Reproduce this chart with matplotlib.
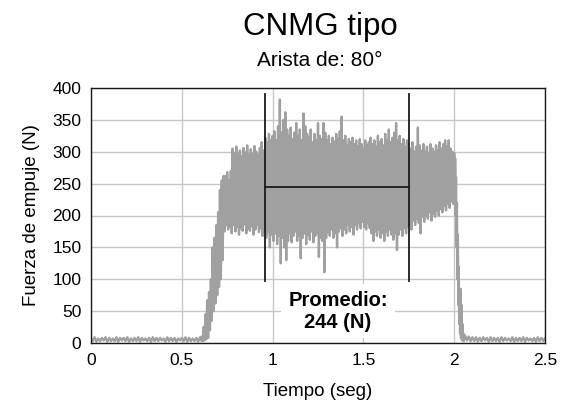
import numpy as np
import matplotlib
matplotlib.use("Agg")
import matplotlib.pyplot as plt

plt.rcParams['font.family'] = ['Liberation Sans', 'DejaVu Sans']

# ---- data ----
# baseline before the cut (t = 0.00 .. 0.60, step 0.02)
base_hi = [8, 9, 7, 8, 9, 8, 7, 9, 8, 8, 9, 7, 8, 9, 8, 7, 8, 9, 8, 8, 7, 9, 8, 8, 7, 8, 9, 8, 7, 8, 9]
base_lo = [3, 2, 3, 4, 2, 3, 3, 2, 4, 3, 2, 3, 3, 2, 4, 3, 2, 3, 3, 4, 2, 3, 3, 2, 4, 3, 2, 3, 3, 2, 3]
# rise (t = 0.61 .. 0.73, step 0.01)
rise_hi = [10, 25, 45, 67, 80, 100, 150, 165, 185, 205, 240, 255, 262]
rise_lo = [3, 4, 6, 8, 20, 35, 50, 62, 75, 88, 100, 130, 175]
# plateau (t = 0.74 .. 2.00, step 0.01)
plat_hi = [262, 268, 255, 270, 305, 298, 308, 296, 302, 293, 306, 299, 310, 295, 304, 297, 309, 300, 294, 306,
           315, 302, 322, 315, 328, 318, 325, 332, 318, 340, 382, 330, 350, 362, 335, 325, 338, 320, 330, 345,
           325, 335, 318, 360, 340, 328, 322, 335, 315, 328, 318, 345, 325, 320, 345, 330, 318, 325, 312, 322,
           316, 328, 320, 332, 355, 318, 325, 310, 320, 315, 322, 312, 318, 308, 320, 312, 305, 318, 310, 315,
           322, 312, 318, 308, 325, 315, 320, 310, 328, 318, 335, 315, 322, 330, 345, 318, 325, 312, 320, 308,
           318, 312, 305, 315, 300, 308, 338, 310, 302, 312, 300, 308, 298, 312, 305, 300, 310, 302, 315, 305,
           312, 318, 308, 318, 305, 300, 298]
plat_lo = [185, 178, 182, 172, 185, 175, 182, 170, 180, 176, 186, 172, 180, 176, 183, 170, 178, 185, 174, 180,
           168, 178, 165, 175, 150, 170, 160, 172, 155, 168, 125, 165, 150, 130, 160, 172, 158, 168, 175, 160,
           168, 133, 165, 172, 155, 170, 162, 175, 158, 168, 172, 135, 165, 160, 111, 165, 175, 168, 178, 165,
           172, 150, 175, 180, 168, 178, 172, 185, 175, 182, 170, 185, 178, 188, 180, 190, 182, 178, 188, 180,
           172, 160, 175, 168, 178, 165, 172, 160, 175, 168, 178, 170, 162, 172, 146, 170, 178, 168, 180, 172,
           182, 185, 178, 192, 185, 195, 188, 172, 198, 190, 200, 195, 205, 192, 202, 198, 208, 200, 210, 205,
           215, 208, 218, 212, 222, 218, 225]
# fall (t = 2.005 .. 2.05, step 0.005)
fall_hi = [290, 260, 220, 170, 120, 80, 85, 60, 30, 15]
fall_lo = [200, 150, 100, 60, 30, 15, 8, 5, 4, 3]
# tail after the cut (t = 2.06 .. 2.50, step 0.02)
tail_hi = [12, 10, 9, 9, 8, 9, 8, 9, 8, 8, 9, 8, 7, 9, 8, 8, 9, 8, 7, 8, 9, 8, 8]
tail_lo = [4, 3, 3, 2, 3, 4, 2, 3, 3, 2, 3, 4, 3, 2, 3, 3, 2, 4, 3, 2, 3, 3, 2]

avg_start, avg_end, avg_value = 0.96, 1.75, 244
bracket_low, bracket_high = 97, 390
x_ticks = [0, 0.5, 1, 1.5, 2, 2.5]
x_ticklabels = ['0', '0.5', '1', '1.5', '2', '2.5']
y_ticks = [0, 50, 100, 150, 200, 250, 300, 350, 400]

segments = [
    (np.arange(len(base_hi)) * 0.02 + 0.00, 0.02, base_hi, base_lo),
    (np.arange(len(rise_hi)) * 0.01 + 0.61, 0.01, rise_hi, rise_lo),
    (np.arange(len(plat_hi)) * 0.01 + 0.74, 0.01, plat_hi, plat_lo),
    (np.arange(len(fall_hi)) * 0.005 + 2.005, 0.005, fall_hi, fall_lo),
    (np.arange(len(tail_hi)) * 0.02 + 2.06, 0.02, tail_hi, tail_lo),
]
ts, vs = [], []
for t, dt, hi, lo in segments:
    for ti, h, l in zip(t, hi, lo):
        ts += [ti, ti + dt / 2]
        vs += [h, l]
ts = np.array(ts)
vs = np.array(vs)

fig = plt.figure(figsize=(5.66, 4.05), dpi=100)
ax = fig.add_axes([91 / 566, 1 - 343 / 405, 454 / 566, 255 / 405])

ax.plot(ts, vs, color='#a0a0a0', lw=1.7, zorder=2)

ax.plot([avg_start, avg_start], [bracket_low, bracket_high], color='#1a1a1a', lw=1.3, zorder=3)
ax.plot([avg_end, avg_end], [bracket_low, bracket_high], color='#1a1a1a', lw=1.3, zorder=3)
ax.plot([avg_start, avg_end], [avg_value, avg_value], color='#1a1a1a', lw=1.3, zorder=3)

ax.text((avg_start + avg_end) / 2 + 0.005, 50, 'Promedio:\n%d (N)' % avg_value, ha='center', va='center',
        fontsize=14.5, fontweight='bold', linespacing=1.2, zorder=4,
        bbox=dict(facecolor='white', edgecolor='none', pad=5))

ax.set_xlim(0, 2.5)
ax.set_ylim(0, 400)
ax.set_xticks(x_ticks)
ax.set_xticklabels(x_ticklabels)
ax.set_yticks(y_ticks)
ax.grid(True, color='#c8c8c8', lw=1.0, zorder=0)
ax.set_axisbelow(True)
ax.tick_params(length=0, labelsize=12.5, pad=7)
for s in ax.spines.values():
    s.set_color('#1a1a1a')
    s.set_linewidth(1.0)

ax.set_xlabel('Tiempo (seg)', fontsize=13.5, labelpad=11)
ax.set_ylabel('Fuerza de empuje (N)', fontsize=13.5, labelpad=9)

fig.text(320 / 566, 1 - 27 / 405, 'CNMG tipo', ha='center', va='center', fontsize=22.5)
fig.text(320 / 566, 1 - 61 / 405, 'Arista de: 80°', ha='center', va='center', fontsize=15)

fig.savefig('out.png', dpi=100)
